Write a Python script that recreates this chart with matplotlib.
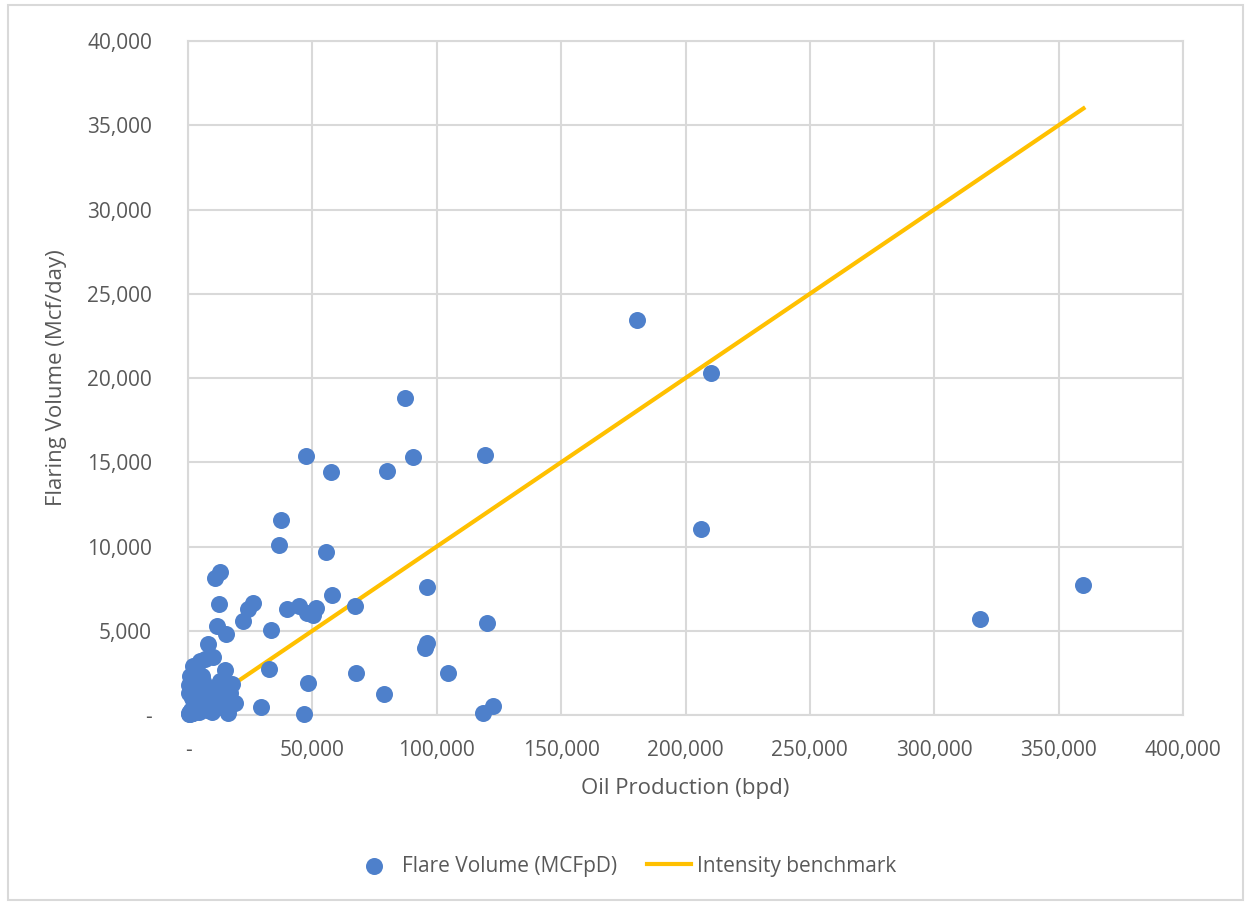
import matplotlib.pyplot as plt
from matplotlib.ticker import FuncFormatter, MultipleLocator
from matplotlib.patches import Rectangle

# oil production (bpd) and flare volume (Mcf/day)
oil_bpd = [
    180700, 210200, 206200, 359800, 318300,
    87200, 47400, 57600, 79900, 90600, 119200,
    37500, 36600, 55300, 12900, 10900,
    96000, 58000, 67000, 12300, 26000, 24200, 22000,
    39700, 44700, 47700, 50100, 51400, 33500, 11800, 15300, 8000,
    120300, 96000, 95300, 32700, 14900, 67500, 104600, 48400, 78800,
    29200, 46800, 118400, 122700,
    # small producers, lower-left cluster
    10000, 4800, 2000, 17600, 18900, 16200, 300, 500, 1000, 2000,
    300, 500, 800, 1000, 1200, 1500, 2000, 2200, 2500, 3000,
    3300, 3800, 4000, 4500, 5000, 5500, 6000, 6500, 7000, 7500,
    8000, 8500, 9000, 9500, 10000, 10500, 11000, 12000, 12500, 13000,
    14000, 15000, 15500, 17000, 3000, 4000, 6000, 7000, 11500, 13000,
    1500, 2500, 16900, 5800, 9200,
]
flare_mcfd = [
    23450, 20300, 11050, 7740, 5710,
    18800, 15400, 14450, 14500, 15300, 15450,
    11600, 10100, 9700, 8500, 8150,
    7600, 7140, 6490, 6600, 6650, 6300, 5600,
    6300, 6490, 6050, 5950, 6350, 5040, 5260, 4820, 4230,
    5460, 4300, 3950, 2740, 2680, 2480, 2480, 1890, 1250,
    460, 60, 100, 540,
    3450, 3200, 2900, 1850, 700, 150, 1300, 1800, 2300, 1950,
    50, 100, 200, 50, 300, 150, 400, 100, 600, 250,
    800, 400, 1000, 200, 700, 1200, 400, 1500, 900, 300,
    1300, 600, 1000, 200, 1600, 800, 1200, 500, 1500, 900,
    1300, 600, 1100, 1300, 2100, 2500, 2000, 3300, 1700, 2000,
    1000, 1500, 1800, 2300, 700,
]

# intensity benchmark, 0.1 Mcf per barrel
bench_x = [0, 360000]
bench_y = [0, 36000]

gray = '#595959'
grid = '#D9D9D9'

plt.rcParams['font.family'] = ['Open Sans', 'DejaVu Sans']

fig = plt.figure(figsize=(12.5, 9.05), dpi=100)
ax = fig.add_axes([0.1504, 0.2099, 0.7960, 0.7448])

ax.plot(bench_x, bench_y, color='#FFC000', lw=3, zorder=3,
        label='Intensity benchmark')
ax.scatter(oil_bpd, flare_mcfd, s=150, color='#4E80CB', linewidths=0,
           zorder=4, clip_on=False, label='Flare Volume (MCFpD)')

ax.set_xlim(0, 400000)
ax.set_ylim(0, 40000)
ax.xaxis.set_major_locator(MultipleLocator(50000))
ax.yaxis.set_major_locator(MultipleLocator(5000))

fmt = FuncFormatter(lambda v, p: '-' if v == 0 else f'{v:,.0f}')
ax.xaxis.set_major_formatter(fmt)
ax.yaxis.set_major_formatter(fmt)

ax.grid(True, color=grid, lw=1.5, zorder=0)
for s in ax.spines.values():
    s.set_color(grid)
    s.set_linewidth(1.5)
ax.tick_params(length=0, labelsize=15, labelcolor=gray)
ax.tick_params(axis='x', pad=18)
ax.tick_params(axis='y', pad=26)

ax.set_xlabel('Oil Production (bpd)', fontsize=16, color=gray, labelpad=12)
ax.set_ylabel('Flaring Volume (Mcf/day)', fontsize=16, color=gray, labelpad=14)

handles, labels = ax.get_legend_handles_labels()
leg = fig.legend(handles[::-1], labels[::-1], loc='center left',
                 bbox_to_anchor=(0.267, 0.043), ncol=2,
                 frameon=False, fontsize=15, handlelength=2.1,
                 columnspacing=1.4, handletextpad=0.3)
for t in leg.get_texts():
    t.set_color(gray)

# chart border
fig.patches.append(Rectangle((0.006, 0.005), 0.988, 0.99, transform=fig.transFigure,
                             fill=False, edgecolor=grid, lw=1.5))

fig.savefig('out.png')
